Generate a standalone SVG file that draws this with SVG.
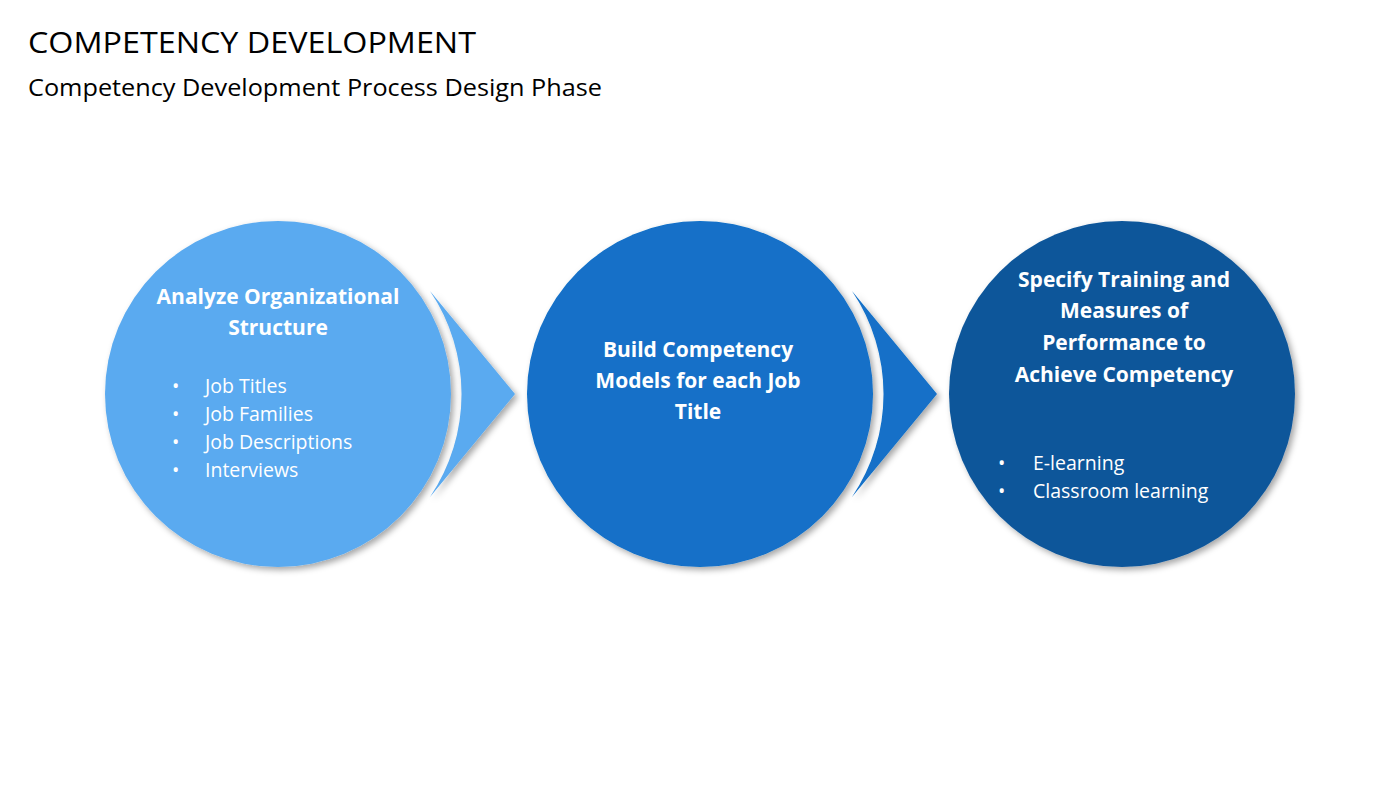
<svg xmlns="http://www.w3.org/2000/svg" width="1400" height="788" viewBox="0 0 1400 788">
<defs>
<filter id="sh" x="-20%" y="-20%" width="140%" height="140%"><feDropShadow dx="3" dy="3" stdDeviation="3" flood-color="#000" flood-opacity="0.35"/></filter>
</defs>
<style>
text{font-family:"Open Sans","Liberation Sans",sans-serif}
.h{fill:#fff;font-weight:bold;font-size:21px;text-anchor:middle}
.b{fill:#fff;font-size:19.5px}
</style>
<rect width="1400" height="788" fill="#fff"/>
<text x="28" y="53" font-size="30" textLength="448" lengthAdjust="spacingAndGlyphs">COMPETENCY DEVELOPMENT</text>
<text x="28" y="96" font-size="23" textLength="574" lengthAdjust="spacingAndGlyphs">Competency Development Process Design Phase</text>
<g id="connectors">
<path filter="url(#sh)" fill="#5AAAF0" d="M430,291 L515,394 L430,497 A184,184 0 0 0 430,291 Z"/>
<path filter="url(#sh)" fill="#1270C8" d="M852,291 L937,394 L852,497 A184,184 0 0 0 852,291 Z"/>
</g>
<g id="n1">
<circle cx="278" cy="394" r="173" fill="#5AAAF0" filter="url(#sh)"/>
<text class="h" x="278" y="304">Analyze Organizational</text>
<text class="h" x="278" y="335">Structure</text>
<g class="b"><text x="172" y="393">•</text><text x="205" y="393">Job Titles</text>
<text x="172" y="421">•</text><text x="205" y="421">Job Families</text>
<text x="172" y="449">•</text><text x="205" y="449">Job Descriptions</text>
<text x="172" y="477">•</text><text x="205" y="477">Interviews</text></g>
</g>
<g id="n2">
<circle cx="700" cy="394" r="173" fill="#1270C8" filter="url(#sh)"/>
<text class="h" x="698" y="357">Build Competency</text>
<text class="h" x="698" y="388">Models for each Job</text>
<text class="h" x="698" y="419">Title</text>
</g>
<g id="n3">
<circle cx="1122" cy="394" r="173" fill="#0D569A" filter="url(#sh)"/>
<text class="h" x="1124" y="287">Specify Training and</text>
<text class="h" x="1124" y="318">Measures of</text>
<text class="h" x="1124" y="350">Performance to</text>
<text class="h" x="1124" y="382">Achieve Competency</text>
<g class="b"><text x="998" y="470">•</text><text x="1033" y="470">E-learning</text>
<text x="998" y="498">•</text><text x="1033" y="498">Classroom learning</text></g>
</g>
</svg>
